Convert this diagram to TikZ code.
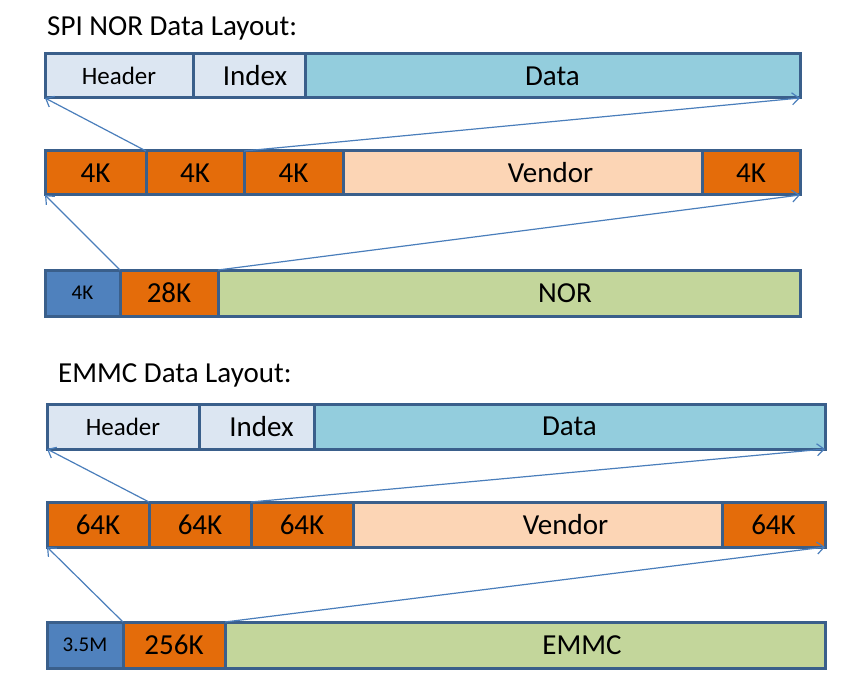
\documentclass[tikz,border=0pt]{standalone}
\usepackage{fontspec}
\setmainfont{Carlito}
\usetikzlibrary{arrows.meta}
\definecolor{bordc}{HTML}{3A5F8B}
\definecolor{hdrc}{HTML}{DCE6F2}
\definecolor{datc}{HTML}{93CDDD}
\definecolor{orc}{HTML}{E46C0A}
\definecolor{venc}{HTML}{FCD5B5}
\definecolor{grc}{HTML}{C3D69B}
\definecolor{blc}{HTML}{4F81BD}
\definecolor{arc}{HTML}{4A7EBB}
\tikzset{
  cell/.style={draw=bordc, line width=3pt, inner sep=0pt, outer sep=0pt,
    anchor=north west, minimum height=44pt, font=\fontsize{29}{31}\selectfont},
  hdr/.style={cell, fill=hdrc},
  dat/.style={cell, fill=datc},
  org/.style={cell, fill=orc},
  ven/.style={cell, fill=venc},
  grn/.style={cell, fill=grc},
  blu/.style={cell, fill=blc},
  smalltxt/.style={font=\fontsize{21}{23}\selectfont},
  hdrtxt/.style={font=\fontsize{25}{27}\selectfont},
  ttl/.style={anchor=base west, inner sep=0pt, font=\fontsize{29}{31}\selectfont},
  link/.style={draw=arc, line width=1.2pt, -{Straight Barb[length=7pt,width=12pt,line width=1.2pt]}}
}
\begin{document}
\begin{tikzpicture}[x=1pt,y=-1pt]
\useasboundingbox (0,0) rectangle (868,682);
% ---------- SPI NOR ----------
\node[ttl] (t1) at (47,36) {SPI NOR Data Layout:};
\node[hdr, hdrtxt, minimum width=148pt] (h1) at (45,54) {Header};
\node[hdr, minimum width=112pt] (i1) at (193,54) {\hspace*{12pt}Index};
\node[dat, minimum width=495pt] (d1) at (305,54) {Data};
\node[org, minimum width=101pt] (a1) at (45,151) {4K};
\node[org, minimum width=98pt] (b1) at (146,151) {4K};
\node[org, minimum width=99pt] (c1) at (244,151) {4K};
\node[ven, minimum width=359pt] (v1) at (343,151) {\hspace*{56pt}Vendor};
\node[org, minimum width=98pt] (e1) at (702,151) {4K};
\node[blu, smalltxt, minimum width=75pt, minimum height=46pt] (s1) at (45,270) {4K};
\node[org, minimum width=98pt, minimum height=46pt] (p1) at (120,270) {28K};
\node[grn, minimum width=582pt, minimum height=46pt] (n1) at (218,270) {\hspace*{112pt}NOR};
\draw[link] (b1.north west) -- (h1.south west);
\draw[link] (c1.north west) -- (d1.south east);
\draw[link] (p1.north west) -- (a1.south west);
\draw[link] (n1.north west) -- (e1.south east);
% ---------- EMMC ----------
\node[ttl] (t2) at (58,382) {EMMC Data Layout:};
\node[hdr, hdrtxt, minimum width=152pt, minimum height=45pt] (h2) at (47,404) {Header};
\node[hdr, minimum width=115pt, minimum height=45pt] (i2) at (199,404) {\hspace*{10pt}Index};
\node[dat, minimum width=511pt, minimum height=45pt] (d2) at (314,404) {Data};
\node[org, minimum width=102pt, minimum height=45pt] (a2) at (47,502) {64K};
\node[org, minimum width=102pt, minimum height=45pt] (b2) at (149,502) {64K};
\node[org, minimum width=102pt, minimum height=45pt] (c2) at (251,502) {64K};
\node[ven, minimum width=369pt, minimum height=45pt] (v2) at (353,502) {\hspace*{56pt}Vendor};
\node[org, minimum width=103pt, minimum height=45pt] (e2) at (722,502) {64K};
\node[blu, smalltxt, minimum width=76pt, minimum height=46pt] (s2) at (47,622) {3.5M};
\node[org, minimum width=102pt, minimum height=46pt] (p2) at (123,622) {256K};
\node[grn, minimum width=600pt, minimum height=46pt] (n2) at (225,622) {\hspace*{114pt}EMMC};
\draw[link] (b2.north west) -- (h2.south west);
\draw[link] (c2.north west) -- (d2.south east);
\draw[link] (p2.north west) -- (a2.south west);
\draw[link] (n2.north west) -- (e2.south east);
\end{tikzpicture}
\end{document}
